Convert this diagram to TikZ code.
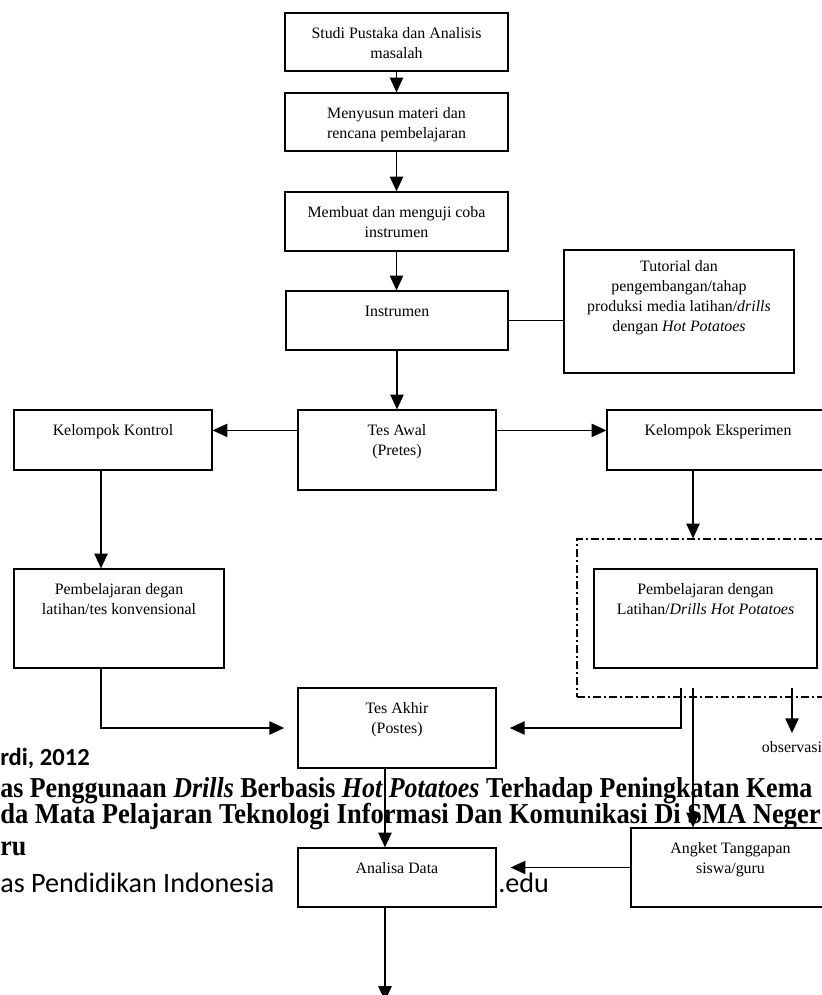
\documentclass[tikz,border=0pt]{standalone}
\usepackage{fontspec}
\setmainfont{Liberation Serif}
\newfontfamily\kaki{Carlito}
\usetikzlibrary{arrows.meta,calc}
\newcommand{\piks}{0.025cm}
\newcommand{\sempit}[2][0.9]{\scalebox{#1}[1]{#2}}

\begin{document}
\begin{tikzpicture}[x=0.025cm,y=-0.025cm,
                blok/.style={draw, line width=0.85pt, fill=white, inner sep=0pt},
                isi/.style={anchor=north, inner sep=0pt, align=center, yshift=-0.375cm, font=\fontsize{11.3}{14.2}\selectfont},
                teks/.style={inner sep=0pt, font=\fontsize{11.3}{14.2}\selectfont},
                panah/.style={line width=1.2pt, -{Triangle[length=0.37cm,width=0.33cm]}},
                garis/.style={line width=1.2pt},
                catatan/.style={anchor=base west, inner sep=0pt, font=\fontsize{20.5}{24}\selectfont\bfseries}]
            \clip (0,0) rectangle (822,995);
            % tulisan kaki halaman di belakang bagan
                \node[catatan, font=\kaki\fontsize{17.5}{20}\selectfont\bfseries] (f1) at (0,765) {rdi, 2012};
                \node[catatan] (f2) at (0,797) {\sempit{as Penggunaan \textit{Drills} Berbasis \textit{Hot Potatoes} Terhadap Peningkatan Kema}};
                \node[catatan] (f3) at (0,823) {\sempit[0.92]{da Mata Pelajaran Teknologi Informasi Dan Komunikasi Di SMA Neger}};
                \node[catatan] (f4) at (0,855) {\sempit{ru}};
                \node[catatan, font=\kaki\fontsize{20}{24}\selectfont] (f5) at (0,892) {as Pendidikan Indonesia};
                \node[catatan, font=\kaki\fontsize{20}{24}\selectfont] (f6) at (498,892) {.edu};
            % kotak-kotak
                \node[blok, minimum width=223*\piks, minimum height=58*\piks, label={[isi]north:Studi Pustaka dan Analisis\\masalah}] (studi) at (396.5,42) {};
                \node[blok, minimum width=223*\piks, minimum height=58*\piks, label={[isi]north:Menyusun materi dan\\rencana pembelajaran}] (susun) at (396.5,122) {};
                \node[blok, minimum width=223*\piks, minimum height=59*\piks, label={[isi]north:Membuat dan menguji coba\\instrumen}] (buat) at (396.5,221.5) {};
                \node[blok, minimum width=222*\piks, minimum height=59*\piks, label={[isi]north:Instrumen}] (instr) at (397,320.5) {};
                \node[blok, minimum width=230*\piks, minimum height=123*\piks, label={[isi, yshift=0.1cm]north:Tutorial dan\\pengembangan/tahap\\produksi media latihan/\textit{drills}\\dengan \textit{Hot Potatoes}}] (tutor) at (679,311.5) {};
                \node[blok, minimum width=198*\piks, minimum height=80*\piks, label={[isi]north:Tes Awal\\(Pretes)}] (tawal) at (397,450) {};
                \node[blok, minimum width=198*\piks, minimum height=60*\piks, label={[isi]north:Kelompok Kontrol}] (kontrol) at (113,440) {};
                \node[blok, minimum width=222*\piks, minimum height=60*\piks, label={[isi]north:Kelompok Eksperimen}] (eks) at (718,440) {};
                \node[blok, minimum width=210*\piks, minimum height=99*\piks, label={[isi]north:Pembelajaran degan\\latihan/tes konvensional}] (pdg) at (119,618.5) {};
                \node[draw, line width=0.85pt, dash pattern=on 0.2cm off 0.08cm on 0.04cm off 0.08cm, minimum width=268*\piks, minimum height=158*\piks] (grup) at (711,618) {};
                \node[blok, minimum width=223*\piks, minimum height=99*\piks, label={[isi]north:Pembelajaran dengan\\Latihan/\textit{Drills Hot Potatoes}}] (pdk) at (705.5,618.5) {};
                \node[blok, minimum width=198*\piks, minimum height=80*\piks, label={[isi]north:Tes Akhir\\(Postes)}] (takhir) at (397,728) {};
                \node[blok, minimum width=198*\piks, minimum height=59*\piks, label={[isi]north:Analisa Data}] (analisa) at (397,877.5) {};
                \node[blok, minimum width=199*\piks, minimum height=79*\piks, label={[isi]north:Angket Tanggapan\\siswa/guru}] (angket) at (730.5,867.5) {};
                \node[teks] (obs) at (792,747) {observasi};
            % titik bantu
                \coordinate (k1) at ($(kontrol.south)+(-12,0)$);
                \coordinate (p1) at ($(pdg.south)+(-18,0)$);
                \coordinate (e1) at ($(eks.south)+(-25,0)$);
                \coordinate (a1) at (681,688);
                \coordinate (a2) at (693,688);
                \coordinate (a3) at (792,688);
                \coordinate (t1) at ($(takhir.south)+(-12,0)$);
                \coordinate (n1) at ($(analisa.south)+(-12,0)$);
                \coordinate (ujung) at (385,1001);
            % panah
                \draw[panah] (studi) -- (susun);
                \draw[panah] (susun) -- (buat);
                \draw[panah] (buat.south) -- (buat.south |- instr.north);
                \draw[panah] (instr.south) -- (instr.south |- tawal.north);
                \draw[garis] (instr.east) -- (instr.east -| tutor.west);
                \draw[panah] ($(tawal.north west)+(0,21)$) -- ($(kontrol.north east)+(0,21)$);
                \draw[panah] ($(tawal.north east)+(0,21)$) -- ($(eks.north west)+(0,21)$);
                \draw[panah] (k1) -- (k1 |- pdg.north);
                \draw[panah, shorten >=0.33cm] (p1) |- (takhir.west);
                \draw[panah] (e1) -- (e1 |- grup.north);
                \draw[panah, shorten >=0.33cm] (a1) |- (takhir.east);
                \draw[panah] (a2) -- (a2 |- angket.north);
                \draw[panah, shorten >=0.2cm] (a3) -- (a3 |- obs.north);
                \draw[panah, shorten >=0.35cm] (angket.west) -- (angket.west -| analisa.east);
                \draw[panah] (t1) -- (t1 |- analisa.north);
                \draw[panah] (n1) -- (ujung);
            \end{tikzpicture}
\end{document}
